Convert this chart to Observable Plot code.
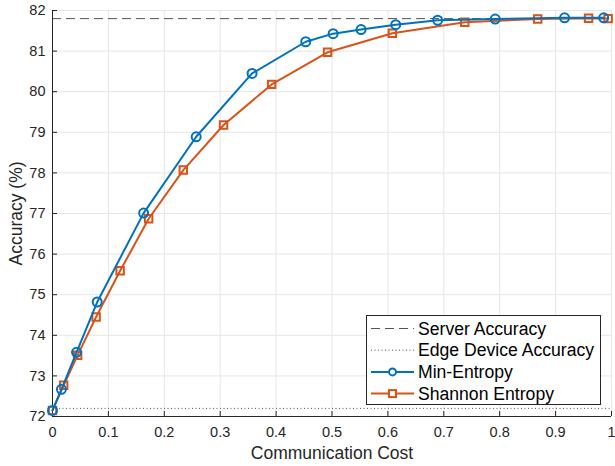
<!DOCTYPE html>
<html><head><meta charset="utf-8">
<script src="https://cdn.jsdelivr.net/npm/d3@7"></script>
<script src="https://cdn.jsdelivr.net/npm/@observablehq/plot@0.6"></script>
<style>
body{margin:0;background:#fff;font-family:"Liberation Sans",Arial,sans-serif}
#wrap{position:relative;width:615px;height:466px}
#legend{position:absolute;left:366px;top:315px}
</style></head><body><div id="wrap"></div>
<script>
const minCost = [0, 0.016, 0.043, 0.080, 0.163, 0.257, 0.357, 0.453, 0.502, 0.552, 0.614, 0.689, 0.792, 0.916, 0.986];
const minAcc  = [72.15, 72.67, 73.58, 74.82, 77.01, 78.89, 80.45, 81.23, 81.43, 81.53, 81.65, 81.76, 81.79, 81.82, 81.82];
const shCost  = [0, 0.020, 0.045, 0.078, 0.121, 0.172, 0.234, 0.306, 0.392, 0.492, 0.608, 0.7375, 0.868, 0.959, 0.994];
const shAcc   = [72.15, 72.77, 73.51, 74.45, 75.59, 76.87, 78.07, 79.18, 80.18, 80.97, 81.44, 81.71, 81.79, 81.81, 81.80];
const serverAcc = 81.8;
const edgeAcc = 72.2;
const xTicks = [0, 0.1, 0.2, 0.3, 0.4, 0.5, 0.6, 0.7, 0.8, 0.9, 1];
const yTicks = [72, 73, 74, 75, 76, 77, 78, 79, 80, 81, 82];
const seriesNames = ["Server Accuracy", "Edge Device Accuracy", "Min-Entropy", "Shannon Entropy"];
const blue = "#0072BD", orange = "#D95319";

const minData = minCost.map((c, i) => ({c, a: minAcc[i]}));
const shData = shCost.map((c, i) => ({c, a: shAcc[i]}));

const chart = Plot.plot({
  width: 615, height: 466,
  marginLeft: 52, marginRight: 4, marginTop: 10, marginBottom: 50,
  style: {fontFamily: '"Liberation Sans", Arial, sans-serif', fontSize: "14px", color: "#262626", background: "#fff"},
  x: {domain: [0, 1]},
  y: {domain: [72, 82]},
  marks: [
    Plot.gridX(xTicks, {stroke: "#e6e6e6", strokeOpacity: 1}),
    Plot.gridY(yTicks, {stroke: "#e6e6e6", strokeOpacity: 1}),
    Plot.ruleY([serverAcc], {stroke: "#555", strokeWidth: 1, strokeDasharray: "9,5"}),
    Plot.ruleY([edgeAcc], {stroke: "#555", strokeWidth: 1, strokeDasharray: "1,2.5"}),
    Plot.ruleY([72], {stroke: "#262626", strokeWidth: 1}),
    Plot.ruleX([0], {stroke: "#262626", strokeWidth: 1}),
    Plot.axisX(xTicks, {tickSize: -5, tickPadding: 15, fontSize: 14.5, label: null, tickFormat: d => String(d), stroke: "#262626"}),
    Plot.axisY(yTicks, {tickSize: -5, tickPadding: 12, fontSize: 14.5, label: null, stroke: "#262626"}),
    Plot.axisX({ticks: [], tickSize: 0, label: "Communication Cost", labelAnchor: "center", labelOffset: 42, labelArrow: "none", fontSize: 17.5}),
    Plot.axisY({ticks: [], tickSize: 0, label: "Accuracy (%)", labelAnchor: "center", labelOffset: 43, labelArrow: "none", fontSize: 17.5}),
    Plot.line(shData, {x: "c", y: "a", stroke: orange, strokeWidth: 2}),
    Plot.dot(shData, {x: "c", y: "a", symbol: "square", r: 4.2, stroke: orange, strokeWidth: 2, fill: "none"}),
    Plot.line(minData, {x: "c", y: "a", stroke: blue, strokeWidth: 2}),
    Plot.dot(minData, {x: "c", y: "a", symbol: "circle", r: 4.5, stroke: blue, strokeWidth: 2, fill: "none"})
  ]
});
document.getElementById("wrap").appendChild(chart);

// Legend
const lw = 235, lh = 90;
const leg = d3.select("#wrap").append("div").attr("id", "legend")
  .append("svg").attr("width", lw).attr("height", lh)
  .style("font-family", '"Liberation Sans", Arial, sans-serif');
leg.append("rect").attr("x", 0.5).attr("y", 0.5).attr("width", lw - 1).attr("height", lh - 1)
  .attr("fill", "#fff").attr("stroke", "#262626");
const styles = [
  {stroke: "#555", dash: "9,5", w: 1},
  {stroke: "#555", dash: "1,2.5", w: 1},
  {stroke: blue, dash: null, w: 2, sym: "circle"},
  {stroke: orange, dash: null, w: 2, sym: "square"}
];
seriesNames.forEach((name, i) => {
  const cy = 13.5 + i * 21.7;
  const s = styles[i];
  leg.append("line").attr("x1", 5).attr("x2", 48).attr("y1", cy).attr("y2", cy)
    .attr("stroke", s.stroke).attr("stroke-width", s.w).attr("stroke-dasharray", s.dash);
  if (s.sym === "circle") leg.append("circle").attr("cx", 26.5).attr("cy", cy).attr("r", 3.5)
    .attr("fill", "#fff").attr("stroke", s.stroke).attr("stroke-width", 2);
  if (s.sym === "square") leg.append("rect").attr("x", 23).attr("y", cy - 3.5).attr("width", 7).attr("height", 7)
    .attr("fill", "#fff").attr("stroke", s.stroke).attr("stroke-width", 2);
  leg.append("text").attr("x", 52).attr("y", cy).attr("dy", "0.35em").attr("font-size", "17.6px")
    .attr("fill", "#000").text(name);
});
</script>
</body></html>
